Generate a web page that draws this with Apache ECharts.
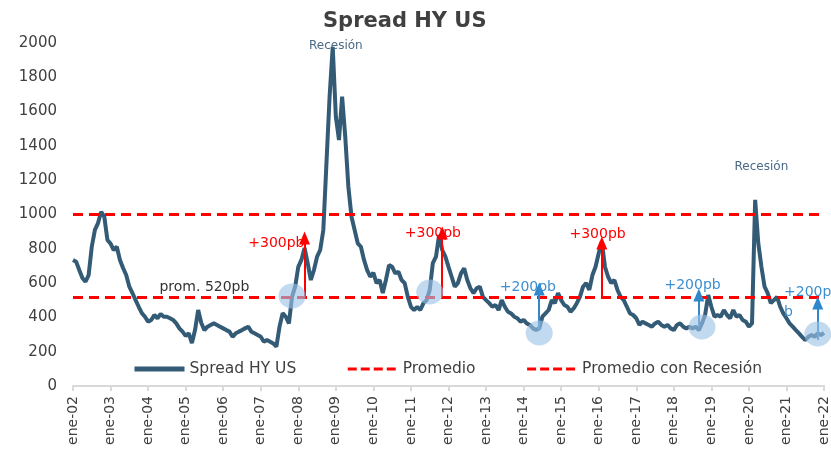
<!DOCTYPE html>
<html lang="es">
<head>
<meta charset="UTF-8">
<title>Spread HY US</title>
<script src="https://cdn.jsdelivr.net/npm/echarts@6/dist/echarts.min.js"></script>
<style>
  html, body { margin: 0; padding: 0; background: #fff; }
  #chart { width: 831px; height: 456px; }
</style>
</head>
<body>
<div id="chart"></div>
<script>
// meses y años del eje x (ene-02 ... ene-22)
var meses = ['ene', 'feb', 'mar', 'abr', 'may', 'jun', 'jul', 'ago', 'sep', 'oct', 'nov', 'dic'];
var anios = ['02', '03', '04', '05', '06', '07', '08', '09', '10', '11', '12', '13', '14', '15', '16', '17', '18', '19', '20', '21', '22'];

// spread HY US mensual (pb)
var spreadHY = [
  735, 725, 676, 630, 608, 647, 812, 910, 950, 1016, 987, 851,   // 2002
  830, 793, 812, 735, 688, 647, 579, 542, 501, 462, 425, 404,    // 2003
  375, 385, 414, 395, 420, 404, 404, 395, 385, 365, 336, 317,    // 2004
  292, 307, 250, 326, 443, 367, 326, 346, 356, 365, 356, 346,    // 2005
  336, 326, 317, 287, 307, 317, 326, 336, 346, 317, 307, 297,    // 2006
  287, 258, 268, 258, 248, 229, 346, 425, 404, 365, 520, 579,    // 2007
  695, 735, 805, 717, 618, 676, 754, 793, 910, 1300, 1687, 1978, // 2008
  1570, 1434, 1687, 1454, 1162, 987, 910, 832, 812, 735, 676, 637, // 2009
  660, 600, 618, 542, 618, 705, 695, 657, 666, 618, 600, 520,    // 2010
  462, 443, 462, 443, 483, 501, 560, 717, 754, 880, 793, 754,    // 2011
  695, 637, 579, 600, 657, 686, 618, 570, 542, 570, 579, 520,    // 2012
  501, 483, 462, 472, 443, 501, 462, 433, 423, 404, 395, 375,    // 2013
  385, 365, 356, 336, 326, 336, 404, 423, 443, 501, 483, 542,    // 2014
  501, 472, 462, 433, 452, 483, 520, 579, 600, 560, 647, 695,    // 2015
  774, 841, 695, 637, 600, 618, 560, 520, 501, 462, 423, 414,    // 2016
  395, 356, 375, 365, 356, 346, 365, 375, 356, 346, 356, 336,    // 2017
  326, 356, 365, 346, 336, 346, 336, 346, 326, 365, 414, 530,    // 2018
  462, 404, 414, 404, 443, 414, 395, 443, 404, 414, 385, 375,    // 2019
  346, 365, 1085, 832, 695, 579, 542, 483, 501, 520, 462, 423,   // 2020
  395, 365, 346, 326, 307, 287, 268, 287, 297, 287, 307, 297,    // 2021
  310                                                            // ene-22
];

var promedio = 520;
var promedioRecesion = 1000;

// anotaciones: [índice mes, valor base, valor tope]
var flechasRojas = [[74, 520, 863], [118, 520, 892], [169, 520, 834]];
var flechasAzules = [[149, 326, 566], [200, 344, 530], [238, 268, 484]];
var circulos = [[70, 525], [114, 548], [149, 309], [201, 344], [238, 303]];

var categorias = [];
for (var a = 0; a < anios.length; a++) {
  for (var m = 0; m < 12; m++) {
    categorias.push(meses[m] + '-' + anios[a]);
    if (anios[a] === '22') break;
  }
}

var rojo = '#ff0000';
var azul = '#2f87cc';
var txtFont = 'DejaVu Sans';

var flechas = [];
flechasRojas.forEach(function (f) {
  flechas.push([{ coord: [f[0], f[1]], lineStyle: { color: rojo } }, { coord: [f[0], f[2]] }]);
});
flechasAzules.forEach(function (f) {
  flechas.push([{ coord: [f[0], f[1]], lineStyle: { color: azul } }, { coord: [f[0], f[2]] }]);
});

function texto(idx, val, txt, color, size, extra) {
  var lbl = { show: true, formatter: txt, color: color, fontSize: size, fontFamily: txtFont, position: 'inside' };
  for (var k in extra) lbl[k] = extra[k];
  return { coord: [idx, val], symbol: 'circle', symbolSize: 1, itemStyle: { color: 'rgba(0,0,0,0)' }, label: lbl };
}

var puntos = circulos.map(function (c) {
  return { coord: c, symbol: 'circle', symbolSize: [27, 25], itemStyle: { color: 'rgba(157,195,230,0.62)' }, label: { show: false } };
});
puntos.push(texto(65, 834, '+300pb', rojo, 14, {}));
puntos.push(texto(115, 892, '+300pb', rojo, 14, {}));
puntos.push(texto(167, 886, '+300pb', rojo, 14, { offset: [2, 0] }));
puntos.push(texto(146, 577, '+200pb', '#3d8fd1', 14, { offset: [-2, 0] }));
puntos.push(texto(198, 589, '+200pb', '#3d8fd1', 14, {}));
puntos.push(texto(225, 490, '+200p\nb', '#3d8fd1', 14, { align: 'left', lineHeight: 20, offset: [7, 0] }));
puntos.push(texto(84, 1982, 'Recesión', '#4a6a86', 12, {}));
puntos.push(texto(220, 1277, 'Recesión', '#4a6a86', 12, {}));
puntos.push(texto(42, 577, 'prom. 520pb', '#333333', 14, {}));

var chart = echarts.init(document.getElementById('chart'));

var option = {
  animation: false,
  title: {
    text: 'Spread HY US',
    left: 318,
    top: 6,
    textStyle: { fontFamily: txtFont, fontSize: 21, fontWeight: 'bold', color: '#404040' }
  },
  legend: {
    left: 127,
    top: 356,
    itemWidth: 50,
    itemHeight: 14,
    itemGap: 50,
    itemStyle: { opacity: 0 },
    textStyle: { fontFamily: txtFont, fontSize: 15.5, color: '#404040' },
    data: [
      { name: 'Spread HY US', lineStyle: { width: 5, color: '#335b76' } },
      { name: 'Promedio', lineStyle: { width: 3, color: rojo, type: [9, 4] } },
      { name: 'Promedio con Recesión', lineStyle: { width: 3, color: rojo, type: [9, 4] } }
    ]
  },
  grid: { left: 73, right: 0, top: 43, bottom: 70 },
  xAxis: {
    type: 'category',
    boundaryGap: false,
    data: categorias,
    axisLine: { lineStyle: { color: '#d9d9d9', width: 2 } },
    axisTick: { interval: 11, length: 5, lineStyle: { color: '#d9d9d9', width: 2 } },
    axisLabel: { interval: 11, rotate: 90, fontFamily: txtFont, fontSize: 14, color: '#404040', margin: 10 }
  },
  yAxis: {
    type: 'value',
    min: 0,
    max: 2000,
    interval: 200,
    axisLine: { show: false },
    axisTick: { show: false },
    splitLine: { show: false },
    axisLabel: {
      fontFamily: txtFont, fontSize: 15, color: '#404040', margin: 16,
      formatter: function (v) { return String(v); }
    }
  },
  series: [
    {
      name: 'Spread HY US',
      type: 'line',
      data: spreadHY,
      symbol: 'none',
      lineStyle: { color: '#335b76', width: 4 },
      itemStyle: { color: '#335b76' },
      z: 2
    },
    {
      name: 'Promedio',
      type: 'line',
      data: [],
      symbol: 'none',
      lineStyle: { color: rojo, width: 3, type: [9, 5] },
      itemStyle: { color: rojo },
      markLine: {
        silent: true,
        symbol: 'none',
        label: { show: false },
        lineStyle: { color: rojo, width: 3, type: [10, 6] },
        data: [{ yAxis: promedio }]
      },
      z: 3
    },
    {
      name: 'Promedio con Recesión',
      type: 'line',
      data: [],
      symbol: 'none',
      lineStyle: { color: rojo, width: 3, type: [9, 5] },
      itemStyle: { color: rojo },
      markLine: {
        silent: true,
        symbol: 'none',
        label: { show: false },
        lineStyle: { color: rojo, width: 3, type: [10, 6] },
        data: [{ yAxis: promedioRecesion }]
      },
      z: 3
    },
    {
      name: 'anotaciones',
      type: 'line',
      data: [],
      z: 4,
      markLine: {
        silent: true,
        symbol: ['none', 'triangle'],
        symbolSize: [11, 13],
        label: { show: false },
        lineStyle: { type: 'solid', width: 2 },
        data: flechas
      },
      markPoint: {
        silent: true,
        data: puntos
      }
    }
  ]
};

chart.setOption(option);
</script>
</body>
</html>
